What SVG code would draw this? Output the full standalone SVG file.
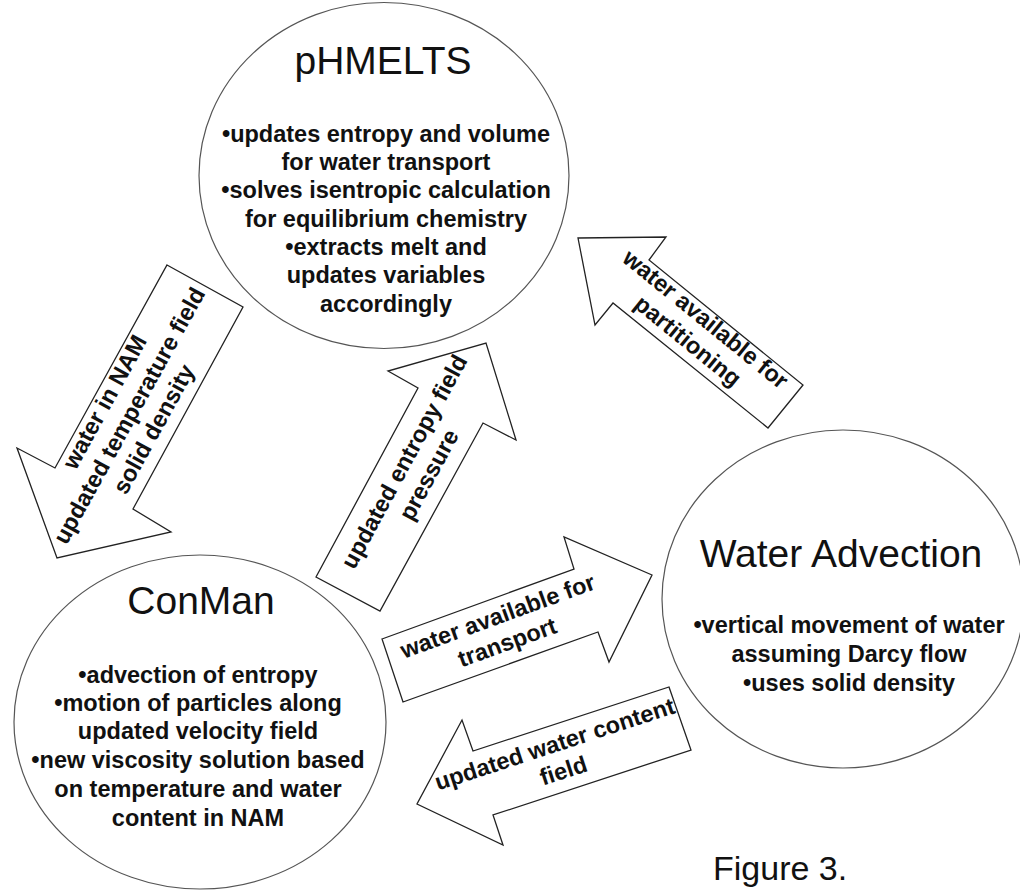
<svg xmlns="http://www.w3.org/2000/svg" width="1020" height="891" viewBox="0 0 1020 891">
<style>
.bg{fill:#ffffff}
.node{fill:#ffffff;stroke:#555555;stroke-width:1.2}
.arrow{fill:#ffffff;stroke:#222222;stroke-width:1.3;stroke-linejoin:miter}
.title{font-family:"Liberation Sans",Arial,sans-serif;font-size:39px;fill:#111111;text-anchor:middle}
.body{font-family:"Liberation Sans",Arial,sans-serif;font-size:23.5px;font-weight:bold;fill:#111111;text-anchor:middle}
.label{font-family:"Liberation Sans",Arial,sans-serif;font-size:23.5px;font-weight:bold;fill:#111111;text-anchor:middle}
.caption{font-family:"Liberation Sans",Arial,sans-serif;font-size:34px;fill:#111111}
</style>
<rect class="bg" x="0" y="0" width="1020" height="891"/>

<g id="connectors">
  <g id="arrow-pHMELTS-to-ConMan">
    <polygon class="arrow" points="167,265 243,307 133,509 171,532 57,558 17,448 55,468"/>
    <g transform="translate(130,416) rotate(-61.1)">
      <text class="label" x="0" y="-21">water in NAM</text>
      <text class="label" x="0" y="7">updated temperature field</text>
      <text class="label" x="0" y="35">solid density</text>
    </g>
  </g>
  <g id="arrow-ConMan-to-pHMELTS">
    <polygon class="arrow" points="316,577 418,388 388,371 486,343 516,440 483,423 380,611"/>
    <g transform="translate(405,462) rotate(-61.6)">
      <text class="label" x="0" y="7">updated entropy field</text>
      <text class="label" x="0" y="35">pressure</text>
    </g>
  </g>
  <g id="arrow-ConMan-to-WaterAdvection">
    <polygon class="arrow" points="382,639 574,569 564,537 652,575 609,662 598,632 403,702"/>
    <g transform="translate(498,617) rotate(-20)">
      <text class="label" x="0" y="7">water available for</text>
      <text class="label" x="0" y="35">transport</text>
    </g>
  </g>
  <g id="arrow-WaterAdvection-to-ConMan">
    <polygon class="arrow" points="669,687 691,750 493,815 503,845 417,804 462,720 473,751"/>
    <g transform="translate(555,745) rotate(-18.1)">
      <text class="label" x="0" y="7">updated water content</text>
      <text class="label" x="0" y="35">field</text>
    </g>
  </g>
  <g id="arrow-WaterAdvection-to-pHMELTS">
    <polygon class="arrow" points="578,238 666,237 649,260 803,385 768,428 613,303 595,325"/>
    <g transform="translate(705,320) rotate(39.1)">
      <text class="label" x="0" y="7">water available for</text>
      <text class="label" x="0" y="35">partitioning</text>
    </g>
  </g>
</g>

<g id="node-pHMELTS">
  <ellipse class="node" cx="384" cy="175.5" rx="185" ry="173"/>
  <text class="title" x="383" y="74">pHMELTS</text>
  <text class="body" x="386" y="142">•updates entropy and volume</text>
  <text class="body" x="386" y="170">for water transport</text>
  <text class="body" x="386" y="198">•solves isentropic calculation</text>
  <text class="body" x="386" y="227">for equilibrium chemistry</text>
  <text class="body" x="386" y="255">•extracts melt and</text>
  <text class="body" x="386" y="283">updates variables</text>
  <text class="body" x="386" y="312">accordingly</text>
</g>

<g id="node-ConMan">
  <ellipse class="node" cx="200" cy="722" rx="186" ry="167"/>
  <text class="title" x="201" y="614">ConMan</text>
  <text class="body" x="198" y="683">•advection of entropy</text>
  <text class="body" x="198" y="711">•motion of particles along</text>
  <text class="body" x="198" y="739">updated velocity field</text>
  <text class="body" x="198" y="768">•new viscosity solution based</text>
  <text class="body" x="198" y="797">on temperature and water</text>
  <text class="body" x="198" y="826">content in NAM</text>
</g>

<g id="node-WaterAdvection">
  <ellipse class="node" cx="843" cy="599" rx="181" ry="169"/>
  <text class="title" x="841" y="567">Water Advection</text>
  <text class="body" x="849" y="633">•vertical movement of water</text>
  <text class="body" x="849" y="662">assuming Darcy flow</text>
  <text class="body" x="849" y="691">•uses solid density</text>
</g>

<text class="caption" x="713" y="880">Figure 3.</text>
</svg>
